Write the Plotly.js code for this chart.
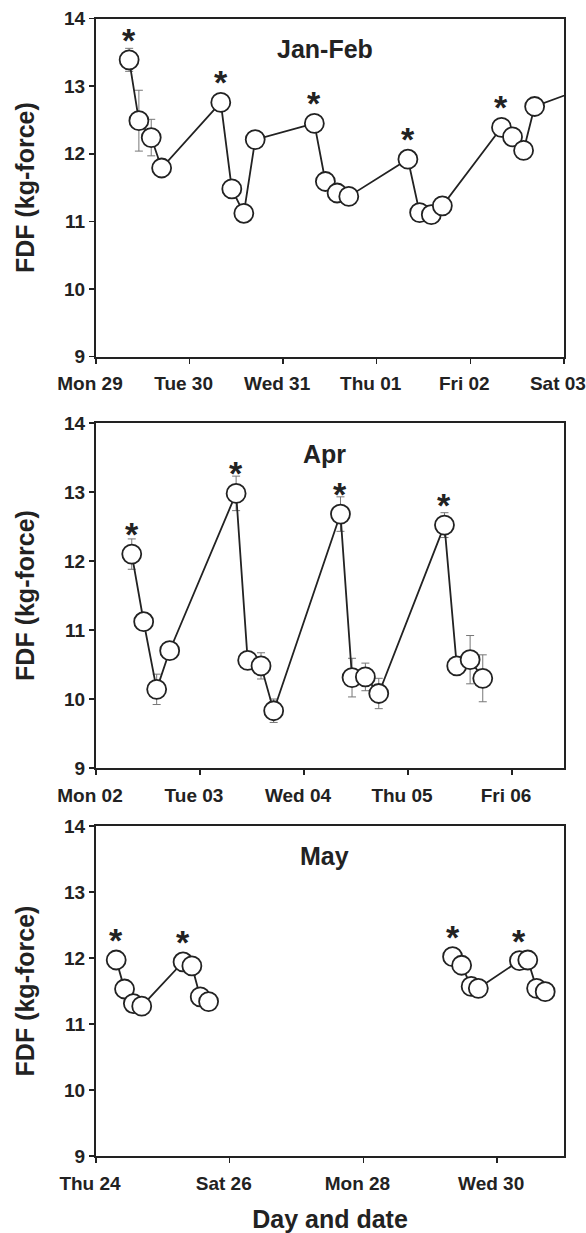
<!DOCTYPE html>
<html>
<head>
<meta charset="utf-8">
<script src="https://cdn.plot.ly/plotly-3.0.1.min.js"></script>
<style>html,body{margin:0;padding:0;background:#fff}#chart{width:586px;height:1233px}</style>
</head>
<body>
<div id="chart"></div>
<script>
// ---------- data ----------
const panelTitles = ['Jan-Feb', 'Apr', 'May'];
const yTitle = 'FDF (kg-force)';
const xTitle = 'Day and date';

const janX = ['2007-01-29 08:30','2007-01-29 11:00','2007-01-29 14:10','2007-01-29 16:50',
              '2007-01-30 08:00','2007-01-30 10:50','2007-01-30 13:55','2007-01-30 16:50',
              '2007-01-31 08:00','2007-01-31 10:50','2007-01-31 13:50','2007-01-31 16:50',
              '2007-02-01 08:00','2007-02-01 11:00','2007-02-01 14:00','2007-02-01 16:50',
              '2007-02-02 08:00','2007-02-02 10:50','2007-02-02 13:40','2007-02-02 16:30',
              '2007-02-03 08:00'];
const janY = [13.39,12.49,12.24,11.79, 12.76,11.48,11.12,12.21, 12.45,11.59,11.42,11.37,
              11.92,11.13,11.10,11.23, 12.39,12.25,12.05,12.70, 13.03];
const janErr = [0.17,0.45,0.27,0.10, 0.10,0.10,0.10,0.10, 0.10,0.10,0.10,0.10,
                0.10,0.10,0.10,0.10, 0.10,0.10,0.10,0.10, 0.10];
const janStar = [1,0,0,0, 1,0,0,0, 1,0,0,0, 1,0,0,0, 1,0,0,0, 0];

const aprX = ['2007-04-02 08:15','2007-04-02 11:00','2007-04-02 14:00','2007-04-02 17:00',
              '2007-04-03 08:20','2007-04-03 11:00','2007-04-03 14:05','2007-04-03 17:00',
              '2007-04-04 08:25','2007-04-04 11:05','2007-04-04 14:10','2007-04-04 17:15',
              '2007-04-05 08:25','2007-04-05 11:15','2007-04-05 14:20','2007-04-05 17:15'];
const aprY = [12.10,11.12,10.14,10.70, 12.98,10.56,10.48,9.83, 12.68,10.31,10.32,10.08,
              12.52,10.48,10.57,10.30];
const aprErr = [0.22,0.10,0.22,0.10, 0.25,0.10,0.19,0.17, 0.25,0.28,0.20,0.22,
                0.18,0.10,0.35,0.34];
const aprStar = [1,0,0,0, 1,0,0,0, 1,0,0,0, 1,0,0,0];

const mayAX = ['2007-05-24 07:15','2007-05-24 10:15','2007-05-24 13:25','2007-05-24 16:25',
               '2007-05-25 07:15','2007-05-25 10:25','2007-05-25 13:25','2007-05-25 16:25'];
const mayAY = [11.97,11.53,11.31,11.27, 11.94,11.88,11.41,11.34];
const mayAErr = [0.08,0.08,0.08,0.08, 0.08,0.08,0.08,0.08];
const mayAStar = [1,0,0,0, 1,0,0,0];

const mayBX = ['2007-05-29 08:00','2007-05-29 11:15','2007-05-29 14:40','2007-05-29 17:15',
               '2007-05-30 08:00','2007-05-30 11:00','2007-05-30 14:10','2007-05-30 17:15'];
const mayBY = [12.02,11.89,11.57,11.54, 11.96,11.97,11.54,11.49];
const mayBErr = [0.08,0.08,0.08,0.08, 0.08,0.08,0.08,0.08];
const mayBStar = [1,0,0,0, 1,0,0,0];

// ---------- styling ----------
const H = 1233;
const FONT = 'Liberation Sans, Arial, sans-serif';
const INK = '#222';
const panelsPx = [[18.6, 356.6], [423, 768], [826, 1156]]; // top, bottom in px
const dom = p => [1 - p[1] / H, 1 - p[0] / H];

function series(x, y, err, xa, ya) {
  return {
    x: x, y: y, xaxis: xa, yaxis: ya, type: 'scatter', mode: 'lines+markers',
    line: {color: INK, width: 1.8},
    marker: {symbol: 'circle', size: 19, color: '#fff', line: {color: INK, width: 1.8}},
    error_y: {type: 'data', array: err, visible: true, color: '#777', thickness: 1, width: 4},
    showlegend: false, hoverinfo: 'x+y'
  };
}

const data = [
  series(janX, janY, janErr, 'x', 'y'),
  series(aprX, aprY, aprErr, 'x2', 'y2'),
  series(mayAX, mayAY, mayAErr, 'x3', 'y3'),
  series(mayBX, mayBY, mayBErr, 'x3', 'y3')
];

const annotations = [];
function addStars(x, y, flags, xa, ya) {
  flags.forEach((f, i) => {
    if (f) annotations.push({x: x[i], y: y[i], xref: xa, yref: ya, text: '*', showarrow: false,
      yanchor: 'middle', yshift: 20, font: {family: FONT, size: 34, weight: 'bold', color: INK}});
  });
}
addStars(janX, janY, janStar, 'x', 'y');
addStars(aprX, aprY, aprStar, 'x2', 'y2');
addStars(mayAX, mayAY, mayAStar, 'x3', 'y3');
addStars(mayBX, mayBY, mayBStar, 'x3', 'y3');

['', '2', '3'].forEach((s, i) => {
  annotations.push({text: panelTitles[i], xref: 'x' + s + ' domain', yref: 'y' + s + ' domain',
    x: 0.489, y: 0.91, showarrow: false, xanchor: 'center', yanchor: 'middle',
    font: {family: FONT, size: 25, weight: 'bold', color: INK}});
});

const tickFont = {family: FONT, size: 19, weight: 'bold', color: INK};
const titleFont = {family: FONT, size: 25, weight: 'bold', color: INK};
function yAxis(p) {
  return {domain: dom(p), range: [9, 14], tick0: 9, dtick: 1, ticks: 'outside', ticklen: 5,
    tickwidth: 1.5, tickcolor: INK, showline: true, linecolor: INK, linewidth: 2, mirror: true,
    showgrid: false, zeroline: false, tickfont: tickFont, fixedrange: true,
    title: {text: yTitle, standoff: 22, font: titleFont}};
}
function xAxis(anchor, range, dtick, tick0, title) {
  const a = {anchor: anchor, type: 'date', range: range, dtick: dtick, tick0: tick0,
    tickformat: '%a %d', ticks: 'outside', ticklen: 5, tickwidth: 1.5, tickcolor: INK,
    ticklabelstandoff: 4, ticklabelshift: -6,
    showline: true, linecolor: INK, linewidth: 2, mirror: true, showgrid: false, zeroline: false,
    tickfont: tickFont, fixedrange: true, domain: [0, 1]};
  if (title) a.title = {text: title, standoff: 22, font: titleFont};
  return a;
}
const DAY = 86400000;
const layout = {
  width: 586, height: 1233, margin: {l: 96, r: 22, t: 0, b: 0},
  paper_bgcolor: '#fff', plot_bgcolor: '#fff', showlegend: false,
  font: {family: FONT, color: INK},
  xaxis: xAxis('y', ['2007-01-29 00:00', '2007-02-03 00:02'], DAY, '2007-01-29'),
  yaxis: yAxis(panelsPx[0]),
  xaxis2: xAxis('y2', ['2007-04-02 00:00', '2007-04-06 12:00'], DAY, '2007-04-02'),
  yaxis2: yAxis(panelsPx[1]),
  xaxis3: xAxis('y3', ['2007-05-24 00:00', '2007-05-31 00:00'], 2 * DAY, '2007-05-24', xTitle),
  yaxis3: yAxis(panelsPx[2]),
  annotations: annotations
};
Plotly.newPlot('chart', data, layout, {displayModeBar: false, staticPlot: true});
</script>
</body>
</html>
